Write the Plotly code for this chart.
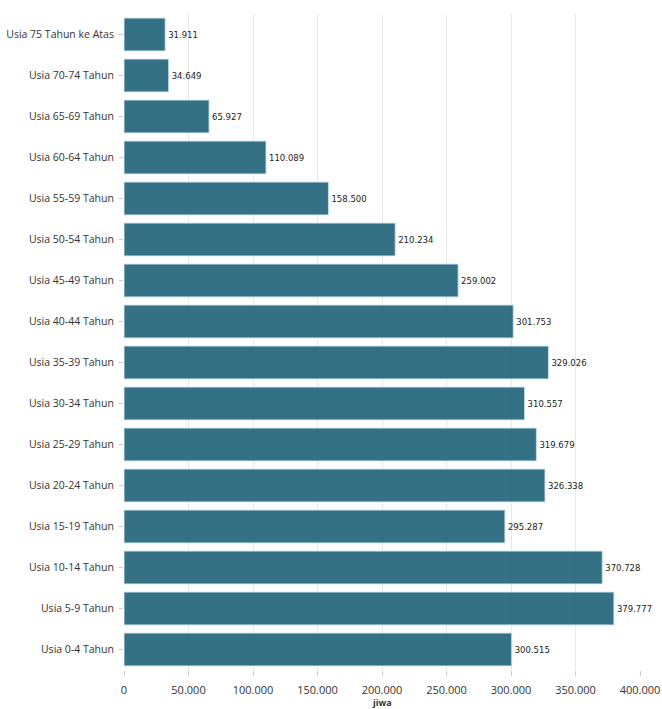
import plotly.graph_objects as go

categories = ["Usia 0-4 Tahun", "Usia 5-9 Tahun", "Usia 10-14 Tahun", "Usia 15-19 Tahun",
              "Usia 20-24 Tahun", "Usia 25-29 Tahun", "Usia 30-34 Tahun", "Usia 35-39 Tahun",
              "Usia 40-44 Tahun", "Usia 45-49 Tahun", "Usia 50-54 Tahun", "Usia 55-59 Tahun",
              "Usia 60-64 Tahun", "Usia 65-69 Tahun", "Usia 70-74 Tahun", "Usia 75 Tahun ke Atas"]
values = [300515, 379777, 370728, 295287, 326338, 319679, 310557, 329026,
          301753, 259002, 210234, 158500, 110089, 65927, 34649, 31911]
labels = [f"{v:,}".replace(",", ".") for v in values]
tick_vals = [0, 50000, 100000, 150000, 200000, 250000, 300000, 350000, 400000]
tick_text = ["0", "50.000", "100.000", "150.000", "200.000", "250.000", "300.000", "350.000", "400.000"]
x_title = "jiwa"

fig = go.Figure(go.Bar(
    y=categories, x=values, orientation="h",
    text=labels, textposition="outside",
    textfont=dict(size=8.5, color="#222", family="Verdana, DejaVu Sans"),
    cliponaxis=False,
    marker=dict(color="rgba(30,98,120,0.9)", line=dict(color="rgba(200,225,235,0.9)", width=1)),
))
fig.update_layout(
    width=662, height=709,
    margin=dict(l=124, r=22, t=14, b=39, autoexpand=False),
    plot_bgcolor="white", paper_bgcolor="white",
    bargap=0.2,
    showlegend=False,
    font=dict(family="Open Sans", size=11, color="#333"),
)
fig.update_xaxes(range=[0, 400000], tickvals=tick_vals, ticktext=tick_text,
                 showgrid=True, gridcolor="#e8e8e8", zeroline=False,
                 ticks="outside", ticklen=5, tickcolor="#ccc",
                 ticklabeloverflow="allow", automargin=False, ticklabelstandoff=5,
                 tickfont=dict(size=11, color="#333", family="Open Sans"))
fig.update_yaxes(ticks="outside", ticklen=4, tickcolor="#ccc", automargin=False,
                 ticklabelstandoff=3,
                 tickfont=dict(size=10.5, color="#333", family="Open Sans"), showgrid=False)
fig.add_annotation(text=f"<b>{x_title}</b>", xref="paper", yref="paper", x=0.5, y=0,
                   yanchor="top", yshift=-25, showarrow=False, borderpad=0,
                   font=dict(size=9, color="#333"))
fig.write_html("out.html")
